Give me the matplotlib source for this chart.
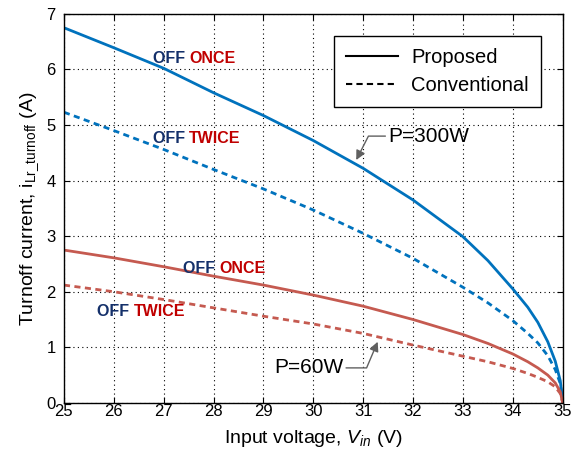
import numpy as np
import matplotlib
matplotlib.use('Agg')
import matplotlib.pyplot as plt

# values
vin = [25, 26, 27, 28, 29, 30, 31, 32, 33, 33.5, 34, 34.3, 34.5, 34.7, 34.85, 34.95, 35]
prop_300 = [6.75, 6.39, 6.02, 5.58, 5.17, 4.72, 4.22, 3.65, 2.99, 2.56, 2.05, 1.72, 1.45, 1.10, 0.75, 0.40, 0.0]
conv_300 = [5.23, 4.90, 4.56, 4.20, 3.85, 3.47, 3.05, 2.60, 2.08, 1.80, 1.48, 1.25, 1.08, 0.85, 0.60, 0.35, 0.0]
prop_60 = [2.75, 2.61, 2.45, 2.28, 2.12, 1.94, 1.74, 1.50, 1.23, 1.07, 0.88, 0.74, 0.63, 0.50, 0.36, 0.20, 0.0]
conv_60 = [2.12, 2.00, 1.86, 1.71, 1.56, 1.42, 1.25, 1.04, 0.84, 0.74, 0.62, 0.53, 0.46, 0.38, 0.29, 0.17, 0.0]

blue = '#0072BD'
red = '#C55A50'
navy = '#14306A'
dred = '#C00000'

plt.rcParams['font.family'] = ['Liberation Sans', 'DejaVu Sans']
plt.rcParams['mathtext.fontset'] = 'custom'
plt.rcParams['mathtext.rm'] = 'Liberation Sans'
plt.rcParams['mathtext.it'] = 'Liberation Sans:italic'

fig = plt.figure(figsize=(5.76, 4.61), dpi=100)
ax = fig.add_axes([0.111, 0.126, 0.866, 0.844])

ax.plot(vin, prop_300, color=blue, lw=2.0)
ax.plot(vin, conv_300, color=blue, lw=2.0, ls=(0, (2.2, 1.6)))
ax.plot(vin, prop_60, color=red, lw=2.0)
ax.plot(vin, conv_60, color=red, lw=2.0, ls=(0, (2.2, 1.6)))

# legend uses black proxies
ax.plot([], [], color='black', lw=1.5, label='Proposed')
ax.plot([], [], color='black', lw=1.5, ls=(0, (3, 2)), label='Conventional')
leg = ax.legend(loc='upper right', bbox_to_anchor=(0.956, 0.943), fontsize=14.5,
                fancybox=False, edgecolor='black', framealpha=1,
                handlelength=2.6, handletextpad=0.65, borderaxespad=0,
                borderpad=0.6, labelspacing=0.45)
leg.get_frame().set_linewidth(1.0)

ax.set_xlim(25, 35)
ax.set_ylim(0, 7)
ax.set_xticks(np.arange(25, 36, 1))
ax.set_yticks(np.arange(0, 8, 1))
ax.tick_params(direction='in', top=True, right=True, labelsize=12, length=4)
ax.tick_params(axis='x', pad=1)
ax.tick_params(axis='y', pad=6)
ax.grid(True, color='black', ls=(0, (1, 3)), lw=0.8)
for s in ax.spines.values():
    s.set_linewidth(1.0)

ax.set_xlabel('Input voltage, $V_{in}$ (V)', fontsize=14, labelpad=6)
ax.set_ylabel(r'Turnoff current, $\mathrm{i_{Lr\_turnoff}}$ (A)', fontsize=14, labelpad=4)

def off_label(x, y, word):
    t = ax.text(x, y, 'OFF ', color=navy, fontsize=11.5, fontweight='bold',
                va='center', ha='left')
    ax.annotate(word, xycoords=t, xy=(1, 0.5), va='center', ha='left',
                color=dred, fontsize=11.5, fontweight='bold')

off_label(26.78, 6.2, 'ONCE')
off_label(26.78, 4.75, 'TWICE')
off_label(27.38, 2.42, 'ONCE')
off_label(25.66, 1.65, 'TWICE')

arrow = dict(arrowstyle='-|>', color='#606060', lw=1.0, shrinkA=0, shrinkB=0,
             mutation_scale=14)
ax.annotate('P=300W', xy=(30.86, 4.37), xytext=(31.5, 4.8), fontsize=15,
            va='center', ha='left',
            arrowprops=dict(arrow, connectionstyle='angle,angleA=0,angleB=63,rad=0'))
ax.annotate('P=60W', xy=(31.29, 1.10), xytext=(30.6, 0.63), fontsize=15,
            va='center', ha='right',
            arrowprops=dict(arrow, connectionstyle='angle,angleA=0,angleB=67,rad=0'))

fig.savefig('out.png', dpi=100)
